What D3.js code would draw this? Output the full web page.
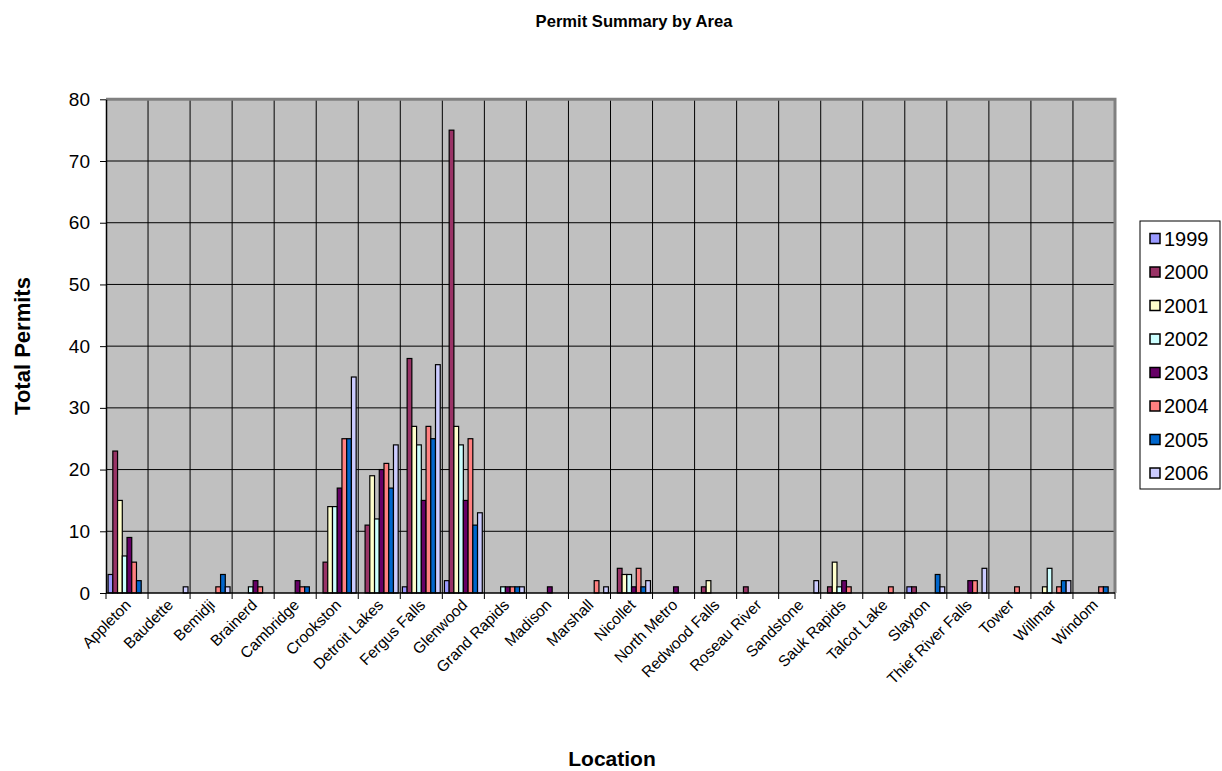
<!DOCTYPE html>
<html><head><meta charset="utf-8">
<script src="https://cdn.jsdelivr.net/npm/d3@7"></script>
<style>body{margin:0;background:#fff}svg text{font-family:'Liberation Sans',Arial,sans-serif}</style>
</head><body><svg id="c" width="1222" height="771" font-family="Liberation Sans, Arial, sans-serif"></svg>
<script>
const categories = ["Appleton","Baudette","Bemidji","Brainerd","Cambridge","Crookston","Detroit Lakes","Fergus Falls","Glenwood","Grand Rapids","Madison","Marshall","Nicollet","North Metro","Redwood Falls","Roseau River","Sandstone","Sauk Rapids","Talcot Lake","Slayton","Thief River Falls","Tower","Willmar","Windom"];
const years = ["1999","2000","2001","2002","2003","2004","2005","2006"];
const colors = ["#9999FF","#993366","#FFFFCC","#CCFFFF","#660066","#FF8080","#0066CC","#CCCCFF"];
// values per category, in order of years
const vAppleton = [3,23,15,6,9,5,2,0];
const vBaudette = [0,0,0,0,0,0,0,1];
const vBemidji = [0,0,0,0,0,1,3,1];
const vBrainerd = [0,0,0,1,2,1,0,0];
const vCambridge = [0,0,0,0,2,1,1,0];
const vCrookston = [0,5,14,14,17,25,25,35];
const vDetroitLakes = [0,11,19,12,20,21,17,24];
const vFergusFalls = [1,38,27,24,15,27,25,37];
const vGlenwood = [2,75,27,24,15,25,11,13];
const vGrandRapids = [0,0,0,1,1,1,1,1];
const vMadison = [0,0,0,0,1,0,0,0];
const vMarshall = [0,0,0,0,0,2,0,1];
const vNicollet = [0,4,3,3,1,4,1,2];
const vNorthMetro = [0,0,0,0,1,0,0,0];
const vRedwoodFalls = [0,1,2,0,0,0,0,0];
const vRoseauRiver = [0,1,0,0,0,0,0,0];
const vSandstone = [0,0,0,0,0,0,0,2];
const vSaukRapids = [0,1,5,1,2,1,0,0];
const vTalcotLake = [0,0,0,0,0,1,0,0];
const vSlayton = [1,1,0,0,0,0,3,1];
const vThiefRiverFalls = [0,0,0,0,2,2,0,4];
const vTower = [0,0,0,0,0,1,0,0];
const vWillmar = [0,0,1,4,0,1,2,2];
const vWindom = [0,0,0,0,0,1,1,0];
const yTicks = [0,10,20,30,40,50,60,70,80];

const values = [vAppleton,vBaudette,vBemidji,vBrainerd,vCambridge,vCrookston,vDetroitLakes,vFergusFalls,vGlenwood,vGrandRapids,vMadison,vMarshall,vNicollet,vNorthMetro,vRedwoodFalls,vRoseauRiver,vSandstone,vSaukRapids,vTalcotLake,vSlayton,vThiefRiverFalls,vTower,vWillmar,vWindom];

const FONT = "'Liberation Sans', Arial, sans-serif";
const svg = d3.select("#c");
const L=106, R=1115, T=99.3, B=593;
const x0 = d3.scaleBand().domain(categories).range([L,R]);
const bw = x0.bandwidth();
const x1 = d3.scaleBand().domain(years).range([bw*0.05, bw*0.95]);
const y = d3.scaleLinear().domain([0,80]).range([B,T]);
const color = d3.scaleOrdinal().domain(years).range(colors);

svg.append("rect").attr("x",L).attr("y",T).attr("width",R-L).attr("height",B-T).attr("fill","#C0C0C0");
svg.append("g").selectAll("line").data(yTicks.slice(1)).join("line")
  .attr("x1",L).attr("x2",R).attr("y1",d=>y(d)).attr("y2",d=>y(d)).attr("stroke","#000").attr("stroke-width",1);
svg.append("g").selectAll("line").data(categories.slice(1)).join("line")
  .attr("x1",d=>x0(d)).attr("x2",d=>x0(d)).attr("y1",T).attr("y2",B).attr("stroke","#000").attr("stroke-width",1);
svg.append("path").attr("d",`M${L},${T}H${R}V${B}`).attr("fill","none").attr("stroke","#808080").attr("stroke-width",3);

const g = svg.append("g");
categories.forEach((c,i)=>{
  years.forEach((yr,j)=>{
    const v = values[i][j];
    if(!v) return;
    g.append("rect").attr("x",x0(c)+x1(yr)).attr("y",y(v)).attr("width",x1.bandwidth()).attr("height",y(0)-y(v))
     .attr("fill",color(yr)).attr("stroke","#000").attr("stroke-width",1.2);
  });
});

const ya = svg.append("g").attr("transform",`translate(${L},0)`).call(d3.axisLeft(y).tickValues(yTicks).tickSize(6).tickSizeOuter(0).tickPadding(10));
ya.select(".domain").attr("stroke","#000").attr("stroke-width",1.5);
ya.selectAll("line").attr("stroke","#000");
ya.selectAll("text").attr("font-family",FONT).attr("font-size",19).attr("fill","#000");

svg.append("line").attr("x1",L).attr("x2",R).attr("y1",B).attr("y2",B).attr("stroke","#000").attr("stroke-width",1.5);
svg.append("g").selectAll("line").data(categories.concat(["__end"])).join("line")
  .attr("x1",(d,i)=>L+i*bw).attr("x2",(d,i)=>L+i*bw).attr("y1",B).attr("y2",B+6).attr("stroke","#000");
svg.append("g").selectAll("text").data(categories).join("text")
  .attr("transform",d=>`translate(${x0(d)+bw/2},${B+8}) rotate(-45)`)
  .attr("text-anchor","end").attr("dy","0.45em").attr("font-family",FONT).attr("font-size",15.5).attr("fill","#000").text(d=>d);

svg.append("text").attr("x",634).attr("y",27).attr("text-anchor","middle").attr("font-family",FONT).attr("font-weight","bold").attr("font-size",16.6).text("Permit Summary by Area");
svg.append("text").attr("x",612).attr("y",766).attr("text-anchor","middle").attr("font-family",FONT).attr("font-weight","bold").attr("font-size",21).text("Location");
svg.append("text").attr("transform","translate(30,346) rotate(-90)").attr("text-anchor","middle").attr("font-family",FONT).attr("font-weight","bold").attr("font-size",22).text("Total Permits");

const lg = svg.append("g");
lg.append("rect").attr("x",1140).attr("y",221).attr("width",80).attr("height",268).attr("fill","#fff").attr("stroke","#000").attr("stroke-width",1);
years.forEach((yr,j)=>{
  const cy = 238.5 + j*33.5;
  lg.append("rect").attr("x",1150).attr("y",cy-5).attr("width",10).attr("height",10).attr("fill",color(yr)).attr("stroke","#000").attr("stroke-width",1.5);
  lg.append("text").attr("x",1164).attr("y",cy).attr("dy","0.36em").attr("font-family",FONT).attr("font-size",20).text(yr);
});
</script></body></html>
